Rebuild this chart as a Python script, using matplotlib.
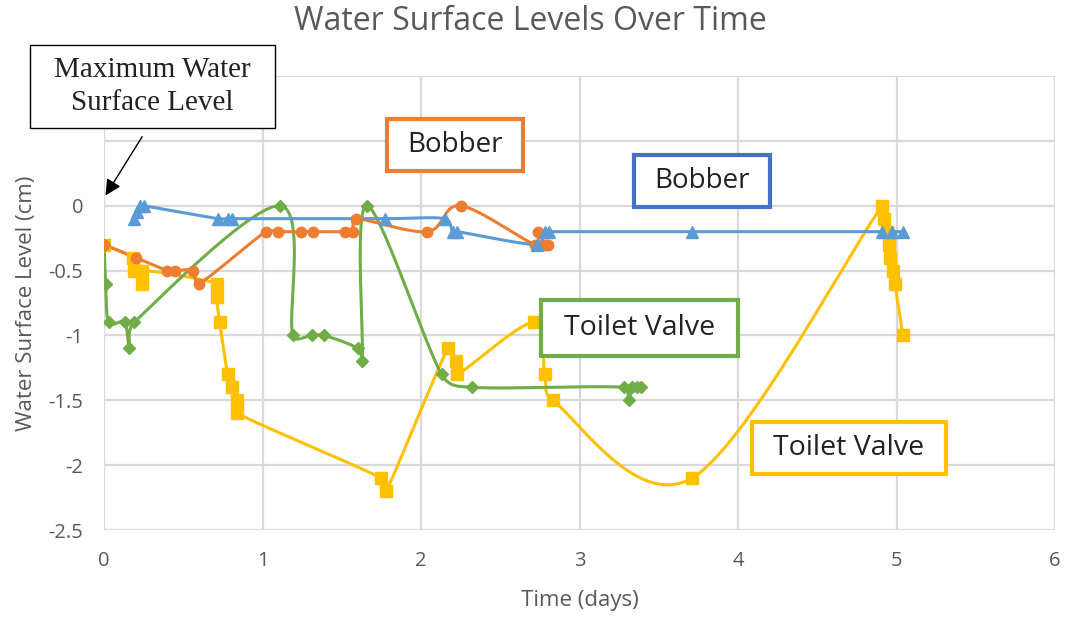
import matplotlib
matplotlib.use("Agg")
import matplotlib.pyplot as plt
from matplotlib.patches import Rectangle
import numpy as np

# data
bobber_blue_x = [0.19, 0.21, 0.23, 0.25, 0.72, 0.78, 0.81, 1.77, 2.15, 2.20, 2.23,
                 2.73, 2.78, 2.81, 3.71, 4.91, 4.97, 5.04]
bobber_blue_y = [-0.1, -0.05, 0.0, 0.0, -0.1, -0.1, -0.1, -0.1, -0.1, -0.2, -0.2,
                 -0.3, -0.2, -0.2, -0.2, -0.2, -0.2, -0.2]

bobber_orange_x = [0.0, 0.2, 0.40, 0.45, 0.56, 0.60, 1.02, 1.10, 1.24, 1.32, 1.52,
                   1.57, 1.59, 2.04, 2.25, 2.72, 2.74, 2.78, 2.80]
bobber_orange_y = [-0.3, -0.4, -0.5, -0.5, -0.5, -0.6, -0.2, -0.2, -0.2, -0.2, -0.2,
                   -0.2, -0.1, -0.2, 0.0, -0.3, -0.2, -0.3, -0.3]

valve_green_x = [0.0, 0.01, 0.03, 0.13, 0.16, 0.19, 1.11, 1.19, 1.31, 1.39, 1.60,
                 1.63, 1.66, 2.13, 2.32, 3.28, 3.31, 3.33, 3.36, 3.39]
valve_green_y = [-0.3, -0.6, -0.9, -0.9, -1.1, -0.9, 0.0, -1.0, -1.0, -1.0, -1.1,
                 -1.2, 0.0, -1.3, -1.4, -1.4, -1.5, -1.4, -1.4, -1.4]

valve_yellow_x = [0.0, 0.18, 0.19, 0.24, 0.24, 0.71, 0.71, 0.73, 0.78, 0.81, 0.84,
                  0.84, 1.75, 1.78, 2.17, 2.22, 2.23, 2.71, 2.78, 2.83, 3.71,
                  4.91, 4.92, 4.94, 4.95, 4.96, 4.98, 4.99, 5.04]
valve_yellow_y = [-0.3, -0.4, -0.5, -0.6, -0.5, -0.6, -0.7, -0.9, -1.3, -1.4, -1.5,
                  -1.6, -2.1, -2.2, -1.1, -1.2, -1.3, -0.9, -1.3, -1.5, -2.1,
                  0.0, -0.1, -0.2, -0.3, -0.4, -0.5, -0.6, -1.0]

x_ticks = [0, 1, 2, 3, 4, 5, 6]
y_ticks = [-2.5, -2, -1.5, -1, -0.5, 0, 0.5, 1]
y_labels = ['-2.5', '-2', '-1.5', '-1', '-0.5', '0', '', '']

W, H = 1065, 619
fig = plt.figure(figsize=(W / 100, H / 100), dpi=100)
ax = fig.add_axes([104 / W, 1 - 530 / H, (1055 - 104) / W, (530 - 76) / H])
ax.set_xlim(0, 6)
ax.set_ylim(-2.5, 1)


def clamp(v, limit):
    n = np.hypot(*v)
    if n > limit and n > 0:
        return v * limit / n
    return v


def smooth(xs, ys, n=24):
    # excel style smoothed line, worked out in screen space
    pts = ax.transData.transform(np.column_stack([xs, ys]))
    out = [pts[0]]
    t = np.linspace(0, 1, n)[1:, None]
    for i in range(len(pts) - 1):
        p0 = pts[max(i - 1, 0)]
        p1 = pts[i]
        p2 = pts[i + 1]
        p3 = pts[min(i + 2, len(pts) - 1)]
        seglen = np.hypot(*(p2 - p1))
        c1 = p1 + clamp((p2 - p0) / 6, seglen * 0.45)
        c2 = p2 - clamp((p3 - p1) / 6, seglen * 0.45)
        seg = ((1 - t) ** 3) * p1 + 3 * ((1 - t) ** 2) * t * c1 + 3 * (1 - t) * t ** 2 * c2 + t ** 3 * p2
        out.extend(seg)
    out = ax.transData.inverted().transform(np.array(out))
    return out[:, 0], out[:, 1]


series = [
    (valve_yellow_x, valve_yellow_y, '#FFC000', 's', 8.5),
    (valve_green_x, valve_green_y, '#70AD47', 'D', 6),
    (bobber_orange_x, bobber_orange_y, '#ED7D31', 'o', 7.5),
    (bobber_blue_x, bobber_blue_y, '#5B9BD5', '^', 8),
]
for xs, ys, col, mk, ms in series:
    sx, sy = smooth(xs, ys)
    ax.plot(sx, sy, color=col, lw=2.2, zorder=3)
    ax.plot(xs, ys, ls='none', marker=mk, ms=ms, color=col, zorder=4)

ax.set_xticks(x_ticks)
ax.set_yticks(y_ticks)
ax.set_yticklabels(y_labels)
ax.grid(True, color='#d9d9d9', lw=1.6)
ax.set_axisbelow(True)
for s in ax.spines.values():
    s.set_visible(False)
ax.tick_params(axis='y', length=0, labelsize=14.5, labelcolor='#595959', pad=15)
ax.tick_params(axis='x', length=0, labelsize=14.5, labelcolor='#595959', pad=15)
for lab in ax.get_xticklabels() + ax.get_yticklabels():
    lab.set_family('Open Sans')

ax.set_xlabel('Time (days)', fontsize=16, color='#595959', family='Open Sans')
ax.xaxis.set_label_coords(0.5, -0.133)
ax.set_ylabel('Water Surface Level (cm)', fontsize=16, color='#595959', family='Open Sans')
ax.yaxis.set_label_coords(-0.07, 0.5)
fig.text(530 / W, 1 - 21 / H, 'Water Surface Levels Over Time', ha='center', va='center',
         fontsize=23, color='#595959', family='Open Sans')


def box(x0, y0, x1, y1, text, edge, lw, size, family='Open Sans', spacing=1.15):
    fig.add_artist(Rectangle((x0 / W, 1 - y1 / H), (x1 - x0) / W, (y1 - y0) / H,
                             transform=fig.transFigure, facecolor='white',
                             edgecolor=edge, lw=lw, zorder=5))
    fig.text((x0 + x1) / 2 / W, 1 - (y0 + y1) / 2 / H, text, ha='center', va='center',
             fontsize=size, color='#222222', family=family, zorder=6, linespacing=spacing)


box(387, 119, 523, 171, 'Bobber', '#ED7D31', 3, 20)
box(634, 155, 770, 207, 'Bobber', '#4472C4', 3, 20)
box(541, 300, 738, 356, 'Toilet Valve', '#70AD47', 3, 20.5)
box(752, 422, 946, 474, 'Toilet Valve', '#FFC000', 3, 20.5)
box(30, 45, 275, 128, 'Maximum Water\nSurface Level', '#000000', 1, 21, 'Liberation Serif', 1.35)

ax.annotate('', xy=(0.0, 0.06), xytext=(0.25, 0.55),
            arrowprops=dict(arrowstyle='-|>', color='black', lw=1, mutation_scale=24))

fig.savefig('out.png', dpi=100)
